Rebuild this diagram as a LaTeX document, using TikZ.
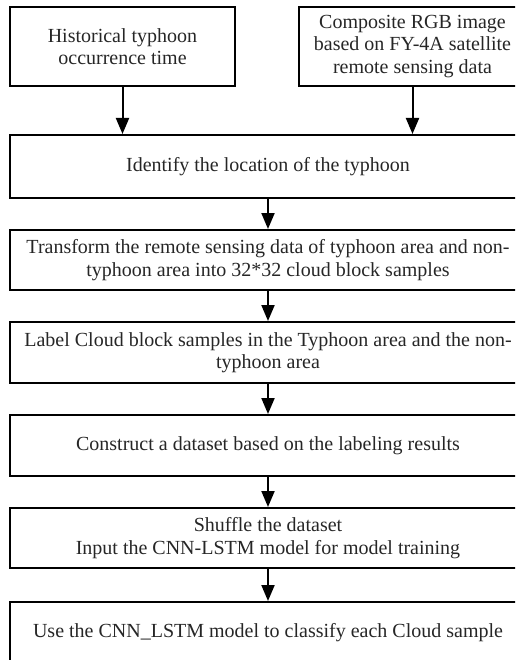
\documentclass[tikz,border=0pt]{standalone}
\usepackage{fontspec}
\setmainfont{Liberation Serif}
\usepackage{tikz}
\usetikzlibrary{arrows.meta}

\begin{document}
\begin{tikzpicture}[x=1pt, y=-1pt,
	every node/.style={font=\fontsize{20}{22.5}\selectfont, text=black!85},
	stepbox/.style={draw, line width=2pt, align=center, inner sep=0pt, minimum width=516pt},
	srcbox/.style={draw, line width=2pt, align=center, inner sep=0pt, minimum height=79pt},
	>={Triangle[length=16pt, width=13pt]}]
	\useasboundingbox (0,0) rectangle (515,660);
	\clip (0,0) rectangle (515,660);
	% inputs
	\node[srcbox, minimum width=225pt] (hist) at (122.5,46.5) {Historical typhoon\\occurrence time};
	\node[srcbox, minimum width=227pt] (rgb) at (412.5,46.5) {Composite RGB image\\based on FY-4A satellite\\remote sensing data};
	% processing steps
	\node[stepbox, minimum height=63pt] (ident) at (268,166.5) {Identify the location of the typhoon};
	\node[stepbox, minimum height=60pt] (trans) at (268,260) {Transform the remote sensing data of typhoon area and non-\\typhoon area into 32*32 cloud block samples};
	\node[stepbox, minimum height=61pt] (lab) at (268,352.5) {Label Cloud block samples in the Typhoon area and the non-\\typhoon area};
	\node[stepbox, minimum height=61pt] (cons) at (268,445.5) {Construct a dataset based on the labeling results};
	\node[stepbox, minimum height=60pt] (shuf) at (268,538) {Shuffle the dataset\\Input the CNN-LSTM model for model training};
	\node[stepbox, minimum height=62pt] (use) at (268,633) {Use the CNN\_LSTM model to classify each Cloud sample};
	% arrows
	\draw[->, line width=2pt] (hist.south) -- (hist.south |- ident.north);
	\draw[->, line width=2pt] (rgb.south) -- (rgb.south |- ident.north);
	\draw[->, line width=2pt] (ident) -- (trans);
	\draw[->, line width=2pt] (trans) -- (lab);
	\draw[->, line width=2pt] (lab) -- (cons);
	\draw[->, line width=2pt] (cons) -- (shuf);
	\draw[->, line width=2pt] (shuf) -- (use);
\end{tikzpicture}
\end{document}
